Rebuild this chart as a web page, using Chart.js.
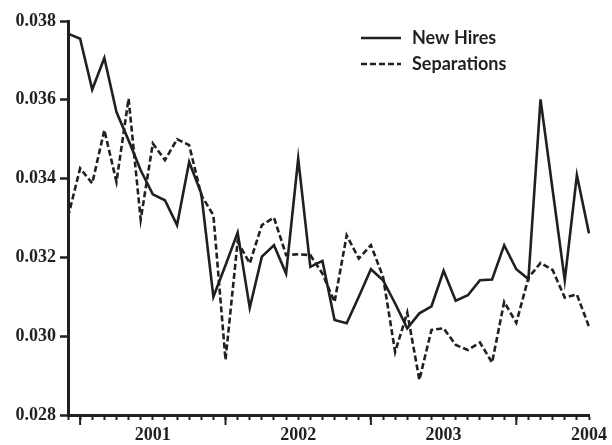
<!DOCTYPE html>
<html>
<head>
<meta charset="utf-8">
<script src="https://cdn.jsdelivr.net/npm/chart.js@4"></script>
<style>
  html, body { margin: 0; padding: 0; background: #fff; }
  #wrap { width: 612px; height: 445px; }
</style>
</head>
<body>
<div id="wrap"><canvas id="c" width="612" height="445"></canvas></div>
<script>
const months = [
  'Jun 2000','Jul 2000','Aug 2000','Sep 2000','Oct 2000','Nov 2000','Dec 2000',
  'Jan 2001','Feb 2001','Mar 2001','Apr 2001','May 2001','Jun 2001','Jul 2001','Aug 2001','Sep 2001','Oct 2001','Nov 2001','Dec 2001',
  'Jan 2002','Feb 2002','Mar 2002','Apr 2002','May 2002','Jun 2002','Jul 2002','Aug 2002','Sep 2002','Oct 2002','Nov 2002','Dec 2002',
  'Jan 2003','Feb 2003','Mar 2003','Apr 2003','May 2003','Jun 2003','Jul 2003','Aug 2003','Sep 2003','Oct 2003','Nov 2003','Dec 2003',
  'Jan 2004'
];
const newHires = [
  0.03768,0.03755,0.03626,0.03706,0.03569,0.03497,0.03421,
  0.03360,0.03345,0.03282,0.03442,0.03362,0.03100,0.03180,0.03263,0.03072,0.03202,0.03231,0.03159,
  0.03451,0.03176,0.03191,0.03041,0.03033,0.03100,0.03170,0.03142,0.03083,0.03020,0.03058,0.03076,
  0.03166,0.03090,0.03104,0.03142,0.03144,0.03231,0.03170,0.03145,0.03601,0.03371,0.03142,0.03409,
  0.03261
];
const separations = [
  0.03303,0.03426,0.03388,0.03523,0.03392,0.03603,0.03296,
  0.03489,0.03447,0.03500,0.03485,0.03358,0.03307,0.02940,0.03240,0.03185,0.03282,0.03301,0.03206,
  0.03208,0.03206,0.03159,0.03087,0.03256,0.03197,0.03231,0.03151,0.02960,0.03060,0.02889,0.03016,
  0.03020,0.02978,0.02965,0.02984,0.02933,0.03087,0.03034,0.03148,0.03186,0.03168,0.03098,0.03106,
  0.03024
];
const seriesNames = ['New Hires', 'Separations'];
const yTicks = [0.028, 0.030, 0.032, 0.034, 0.036, 0.038];

const INK = '#231f20';

const extraPlugin = {
  id: 'extras',
  afterDraw(chart) {
    const ctx = chart.ctx;
    const xs = chart.scales.x;
    const bottom = chart.chartArea.bottom;
    ctx.save();
    // longer mid-year ticks
    ctx.strokeStyle = INK;
    ctx.lineWidth = 2;
    months.forEach((m, i) => {
      if (m.startsWith('Jul')) {
        const px = xs.getPixelForValue(i);
        ctx.beginPath();
        ctx.moveTo(px, bottom);
        ctx.lineTo(px, bottom + 10);
        ctx.stroke();
      }
    });
    // legend
    const ys = [38, 64];
    chart.data.datasets.forEach((ds, k) => {
      ctx.beginPath();
      ctx.lineWidth = 2.6;
      ctx.setLineDash(ds.borderDash || []);
      ctx.moveTo(361, ys[k]);
      ctx.lineTo(401, ys[k]);
      ctx.stroke();
      ctx.setLineDash([]);
      ctx.fillStyle = INK;
      ctx.font = 'bold 18px Lato';
      ctx.textAlign = 'left';
      ctx.textBaseline = 'middle';
      ctx.fillText(ds.label, 412, ys[k]);
    });
    ctx.restore();
  }
};

new Chart(document.getElementById('c'), {
  type: 'line',
  data: {
    labels: months,
    datasets: [
      { label: seriesNames[0], data: newHires, borderColor: INK, borderWidth: 2.6, pointRadius: 0, tension: 0, fill: false },
      { label: seriesNames[1], data: separations, borderColor: INK, borderWidth: 2.6, borderDash: [6, 3], pointRadius: 0, tension: 0, fill: false }
    ]
  },
  options: {
    responsive: false,
    animation: false,
    layout: { padding: { left: 0, right: 20, top: 21, bottom: 0 } },
    plugins: { legend: { display: false }, tooltip: { enabled: false } },
    scales: {
      x: {
        type: 'category',
        offset: false,
        grid: { display: true, drawOnChartArea: false, offset: false, tickLength: 5, tickWidth: 2, tickColor: INK },
        border: { display: true, color: INK, width: 3 },
        ticks: {
          autoSkip: false, maxRotation: 0, minRotation: 0, padding: 5,
          color: INK, font: { family: 'Liberation Serif', weight: 'bold', size: 18 },
          callback: function (val) {
            const lab = this.getLabelForValue(val);
            return lab.startsWith('Jan') ? lab.slice(4) : '';
          }
        },
        afterFit: (s) => { s.height = 30; }
      },
      y: {
        min: yTicks[0], max: yTicks[yTicks.length - 1],
        grid: { display: true, drawOnChartArea: false, tickLength: 8, tickWidth: 2.5, tickColor: INK },
        border: { display: true, color: INK, width: 3 },
        afterBuildTicks: (s) => { s.ticks = yTicks.map(v => ({ value: v })); },
        ticks: {
          padding: 4, color: INK, font: { family: 'Liberation Serif', weight: 'bold', size: 18 },
          callback: (v) => Number(v).toFixed(3)
        },
        afterFit: (s) => { s.width = 68; }
      }
    }
  },
  plugins: [extraPlugin]
});
</script>
</body>
</html>
